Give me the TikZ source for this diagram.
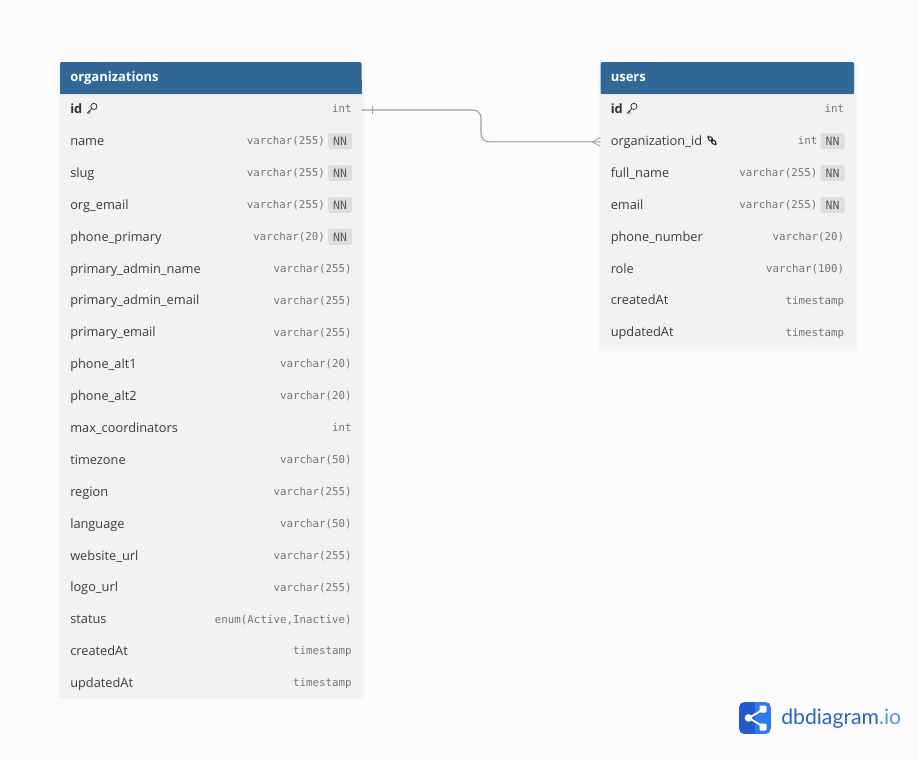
\documentclass[tikz,border=0pt]{standalone}
\usepackage{fontspec}
\setmainfont{Open Sans}
\newfontfamily\typefont{DejaVu Sans Mono}
\newfontfamily\logofont{Lato}
\usetikzlibrary{calc}
\definecolor{pagebg}{HTML}{FCFCFC}
\definecolor{bodybg}{HTML}{F2F2F2}
\definecolor{headbg}{HTML}{316896}
\definecolor{nametxt}{HTML}{3C3C3C}
\definecolor{typetxt}{HTML}{747474}
\definecolor{badgebg}{HTML}{DEDEDE}
\definecolor{linkcol}{HTML}{9C9CA2}
\definecolor{logodark}{HTML}{2459CC}
\definecolor{logolight}{HTML}{2F7AEE}
\definecolor{logotext}{HTML}{2B64C8}
\definecolor{logotextb}{HTML}{5592E6}
\tikzset{
  x=0.75pt,y=-0.75pt,
  headbox/.style={fill=headbg,draw=none,inner sep=0,outer sep=0,minimum width=#1,minimum height=24pt,rounded corners=1.5pt,anchor=north west},
  headtxt/.style={font=\fontsize{9.75pt}{12pt}\selectfont\bfseries,text=white,anchor=base west,inner sep=0},
  rowbox/.style={inner sep=0,outer sep=0,minimum width=#1,minimum height=23.9pt,anchor=west},
  nametext/.style={font=\fontsize{9.6pt}{12pt}\selectfont,text=nametxt,anchor=base west,inner sep=0},
  pktext/.style={font=\fontsize{9.6pt}{12pt}\selectfont\bfseries,text=nametxt!80!black,anchor=base west,inner sep=0},
  typetext/.style={font=\fontsize{8.1pt}{10pt}\typefont,text=typetxt,anchor=base east,inner sep=0},
  badge/.style={fill=badgebg,rounded corners=1pt,minimum width=18pt,minimum height=12pt,inner sep=0,font=\fontsize{8.6pt}{10pt}\typefont,text=nametxt!85!white},
  relline/.style={draw=linkcol,line width=0.8pt},
  relmark/.style={draw=linkcol,line width=0.6pt},
  softshadow/.style={fill=black,fill opacity=0.008,draw=none,rounded corners=2pt},
  keyicon/.pic={
    \draw[line width=0.55pt,nametxt!70!black] (2.4,-1.6) circle[radius=3.1];
    \draw[line width=0.55pt,nametxt!70!black] (0.2,0.6) -- (-4.2,5) -- (-2,5.3) (-2.4,3.2) -- (-1,4.4);
  },
  linkicon/.pic={
    \draw[line width=0.75pt,nametxt!70!black,rotate=-45,rounded corners=1.4pt] (-5.4,-1.7) rectangle (0.8,1.7);
    \draw[line width=0.75pt,nametxt!70!black,rotate=-45,rounded corners=1.4pt] (-0.8,-1.7) rectangle (5.4,1.7);
  },
}
\newcommand{\fieldrow}[8]{% prefix,index,left,right,name,type,NN(1/0),nameStyle
  \pgfmathsetmacro{\rowc}{110+31.89*#2}
  \pgfmathsetmacro{\rowb}{\rowc+2.8}
  \pgfmathsetmacro{\typer}{#7==1 ? #4-36.3 : #4-9.7}
  \node[rowbox={(#4-#3)*0.75pt}] (#1-#2) at (#3,\rowc) {};
  \node[#8] (#1-#2-name) at (#3+10,\rowb+0.8) {#5};
  \node[typetext] (#1-#2-type) at (\typer,\rowb) {#6};
  \ifnum#7=1
    \node[badge] (#1-#2-nn) at (#4-21.5,\rowc-0.6) {NN};
  \fi
}
\begin{document}
\begin{tikzpicture}
\useasboundingbox[fill=pagebg] (0,0) rectangle (918,760);
% shadows
\foreach \s in {1,...,4}{
  \fill[softshadow] (60-\s+1,62-\s+1) rectangle (361+\s+1,699);
  \fill[softshadow] (600.5-\s+1,62-\s+1) rectangle (854+\s+1,348+\s+1);
}
% organizations table
\fill[bodybg] (60,90) rectangle (361.5,699);
\node[headbox=226.125pt] (org-head) at (60,62) {};
\fill[headbg] (60,80) rectangle (361.5,94);
\node[headtxt] (org-title) at (70,81) {organizations};
\fieldrow{org}{0}{60}{361.5}{id}{int}{0}{pktext}
\fieldrow{org}{1}{60}{361.5}{name}{varchar(255)}{1}{nametext}
\fieldrow{org}{2}{60}{361.5}{slug}{varchar(255)}{1}{nametext}
\fieldrow{org}{3}{60}{361.5}{org\_email}{varchar(255)}{1}{nametext}
\fieldrow{org}{4}{60}{361.5}{phone\_primary}{varchar(20)}{1}{nametext}
\fieldrow{org}{5}{60}{361.5}{primary\_admin\_name}{varchar(255)}{0}{nametext}
\fieldrow{org}{6}{60}{361.5}{primary\_admin\_email}{varchar(255)}{0}{nametext}
\fieldrow{org}{7}{60}{361.5}{primary\_email}{varchar(255)}{0}{nametext}
\fieldrow{org}{8}{60}{361.5}{phone\_alt1}{varchar(20)}{0}{nametext}
\fieldrow{org}{9}{60}{361.5}{phone\_alt2}{varchar(20)}{0}{nametext}
\fieldrow{org}{10}{60}{361.5}{max\_coordinators}{int}{0}{nametext}
\fieldrow{org}{11}{60}{361.5}{timezone}{varchar(50)}{0}{nametext}
\fieldrow{org}{12}{60}{361.5}{region}{varchar(255)}{0}{nametext}
\fieldrow{org}{13}{60}{361.5}{language}{varchar(50)}{0}{nametext}
\fieldrow{org}{14}{60}{361.5}{website\_url}{varchar(255)}{0}{nametext}
\fieldrow{org}{15}{60}{361.5}{logo\_url}{varchar(255)}{0}{nametext}
\fieldrow{org}{16}{60}{361.5}{status}{enum(Active,Inactive)}{0}{nametext}
\fieldrow{org}{17}{60}{361.5}{createdAt}{timestamp}{0}{nametext}
\fieldrow{org}{18}{60}{361.5}{updatedAt}{timestamp}{0}{nametext}
\pic at (91.5,108) {keyicon};
% users table
\fill[bodybg] (600.5,90) rectangle (854,348);
\node[headbox=190.125pt] (usr-head) at (600.5,62) {};
\fill[headbg] (600.5,80) rectangle (854,94);
\node[headtxt] (usr-title) at (610.5,81) {users};
\fieldrow{usr}{0}{600.5}{854}{id}{int}{0}{pktext}
\fieldrow{usr}{1}{600.5}{854}{organization\_id}{int}{1}{nametext}
\fieldrow{usr}{2}{600.5}{854}{full\_name}{varchar(255)}{1}{nametext}
\fieldrow{usr}{3}{600.5}{854}{email}{varchar(255)}{1}{nametext}
\fieldrow{usr}{4}{600.5}{854}{phone\_number}{varchar(20)}{0}{nametext}
\fieldrow{usr}{5}{600.5}{854}{role}{varchar(100)}{0}{nametext}
\fieldrow{usr}{6}{600.5}{854}{createdAt}{timestamp}{0}{nametext}
\fieldrow{usr}{7}{600.5}{854}{updatedAt}{timestamp}{0}{nametext}
\pic at (631.5,108) {keyicon};
\pic at (712,140.5) {linkicon};
% relationship
\draw[relline,rounded corners=6pt] (org-0.east) -| ($(org-0.east)!0.5!(usr-1.west)$) |- (usr-1.west);
\draw[relmark] ($(org-0.east)+(10.5,-4)$) -- ($(org-0.east)+(10.5,4)$);
\draw[relmark] (usr-1.west) ++(0,-4.5) -- ++(-8,4.5) -- ++(8,4.5);
% logo
\begin{scope}
  \clip[rounded corners=4pt] (739,702) rectangle (771,734);
  \fill[logodark] (739,702) rectangle (755,734);
  \fill[logolight] (755,702) rectangle (771,734);
\end{scope}
\draw[white,line width=1.4pt] (762,710) -- (749,718) -- (762,726);
\fill[white] (748.5,718) circle[radius=3.8];
\fill[white,rounded corners=0.8pt] (759.5,705.5) rectangle (766.5,712.5);
\fill[white,rounded corners=0.8pt] (759.5,723.5) rectangle (766.5,730.5);
\node[anchor=base west,inner sep=0,font=\fontsize{15.9pt}{18pt}\logofont,text=logotext] (logo-text) at (781,724.5) {dbdiagram\textcolor{logotextb}{.io}};
\end{tikzpicture}
\end{document}
